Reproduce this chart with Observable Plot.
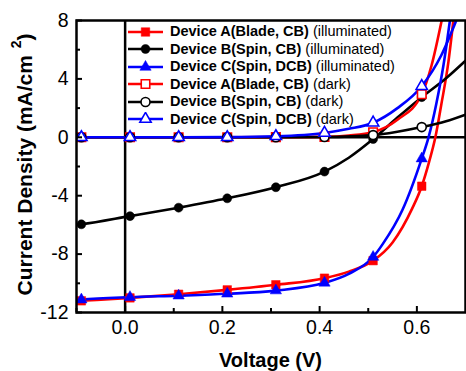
<!DOCTYPE html>
<html><head><meta charset="utf-8">
<script src="https://cdn.jsdelivr.net/npm/d3@7"></script>
<script src="https://cdn.jsdelivr.net/npm/@observablehq/plot@0.6"></script>
<style>
html,body{margin:0;padding:0;background:#fff;}
#wrap{position:relative;width:466px;height:371px;font-family:"Liberation Sans",Arial,sans-serif;}
#legend{position:absolute;left:128px;top:23px;}
.row{display:flex;align-items:center;height:17.5px;font-size:14.5px;color:#000;white-space:nowrap;line-height:17.5px;}
.row svg{margin-right:7px;flex:none;}
.row b{font-weight:bold;}
</style></head><body><div id="wrap"></div>
<script>
// ---- data ----
const markerVoltage = [-0.09, 0.01, 0.11, 0.21, 0.31, 0.41, 0.51, 0.61];
const markA_ill = [-11.2, -11.0, -10.75, -10.45, -10.1, -9.65, -8.45, -3.35];
const markB_ill = [-5.96, -5.4, -4.82, -4.18, -3.42, -2.35, -0.12, 2.75];
const markC_ill = [-11.12, -10.95, -10.85, -10.72, -10.5, -9.97, -8.2, -1.46];
const markA_dark = [0, 0, 0, 0, 0.01, 0.03, 0.35, 2.95];
const markB_dark = [0, 0, 0, 0, 0, 0.02, 0.15, 0.7];
const markC_dark = [0, 0, 0, 0, 0.07, 0.3, 1.0, 3.5];

const lineA_ill_V = [-0.1, -0.09, 0.01, 0.11, 0.21, 0.31, 0.41, 0.46, 0.51, 0.55, 0.59, 0.61, 0.625, 0.638, 0.65, 0.665, 0.675];
const lineA_ill_J = [-11.22, -11.2, -11.0, -10.75, -10.45, -10.1, -9.65, -9.2, -8.45, -7.2, -4.9, -3.35, -1.7, 0, 2.2, 5.2, 8];
const lineB_ill_V = [-0.1, -0.09, 0.01, 0.11, 0.21, 0.31, 0.41, 0.46, 0.51, 0.56, 0.61, 0.66, 0.7];
const lineB_ill_J = [-6.0, -5.96, -5.4, -4.82, -4.18, -3.42, -2.35, -1.4, -0.12, 1.35, 2.75, 4.05, 5.25];
const lineC_ill_V = [-0.1, -0.09, 0.01, 0.11, 0.21, 0.31, 0.41, 0.46, 0.51, 0.53, 0.57, 0.61, 0.624, 0.64, 0.655, 0.668];
const lineC_ill_J = [-11.15, -11.12, -10.95, -10.85, -10.72, -10.5, -9.97, -9.35, -8.2, -7.3, -5.0, -1.46, 0, 2.3, 5.0, 8];
const lineA_dark_V = [-0.1, -0.09, 0.01, 0.11, 0.21, 0.31, 0.41, 0.46, 0.51, 0.56, 0.61, 0.63, 0.651];
const lineA_dark_J = [0, 0, 0, 0, 0, 0.01, 0.03, 0.12, 0.35, 1.2, 2.95, 4.9, 8];
const lineB_dark_V = [-0.1, -0.09, 0.01, 0.11, 0.21, 0.31, 0.41, 0.51, 0.56, 0.61, 0.66, 0.7];
const lineB_dark_J = [0, 0, 0, 0, 0, 0, 0.02, 0.15, 0.38, 0.7, 1.1, 1.55];
const lineC_dark_V = [-0.1, -0.09, 0.01, 0.11, 0.21, 0.31, 0.41, 0.46, 0.51, 0.56, 0.61, 0.65, 0.681];
const lineC_dark_J = [0, 0, 0, 0, 0.01, 0.07, 0.3, 0.58, 1.0, 2.0, 3.5, 5.6, 8];

const xTicksMajor = [0, 0.2, 0.4, 0.6];
const xTicksMinor = [-0.1, 0.1, 0.3, 0.5];
const yTicksMajor = [-12, -8, -4, 0, 4, 8];
const yTicksMinor = [-10, -6, -2, 2, 6];

const seriesNames = ["Device A(Blade, CB)", "Device B(Spin, CB)", "Device C(Spin, DCB)", "Device A(Blade, CB)", "Device B(Spin, CB)", "Device C(Spin, DCB)"];
const seriesConds = ["(illuminated)", "(illuminated)", "(illuminated)", "(dark)", "(dark)", "(dark)"];
const seriesColors = ["#ff0000", "#000000", "#0000ff", "#ff0000", "#000000", "#0000ff"];
const seriesSymbols = ["square", "circle", "triangle", "square", "circle", "triangle"];
const seriesFilled = [true, true, true, false, false, false];

// ---- build tables ----
const lineSets = [
  [lineA_ill_V, lineA_ill_J], [lineB_ill_V, lineB_ill_J], [lineC_ill_V, lineC_ill_J],
  [lineA_dark_V, lineA_dark_J], [lineB_dark_V, lineB_dark_J], [lineC_dark_V, lineC_dark_J]
];
const markSets = [markA_ill, markB_ill, markC_ill, markA_dark, markB_dark, markC_dark];
const symR = {square: 4.8, circle: 4.5, triangle: 4.2};

const W = 466, H = 371, mL = 76, mR = 1, mT = 20, mB = 59;
const plotW = W - mL - mR, plotH = H - mT - mB;
const font = '"Liberation Sans", Arial, sans-serif';

const marks = [
  Plot.ruleX([0], {strokeWidth: 2.5, stroke: "#000"}),
  Plot.ruleY([0], {strokeWidth: 2.5, stroke: "#000"})
];
lineSets.forEach(([V, J], i) => {
  const rows = V.map((v, k) => ({v, j: J[k]}));
  marks.push(Plot.line(rows, {x: "v", y: "j", stroke: seriesColors[i], strokeWidth: 2.6, curve: "monotone-x", clip: true}));
});
markSets.forEach((J, i) => {
  const rows = markerVoltage.map((v, k) => ({v, j: J[k]}));
  const s = seriesSymbols[i];
  marks.push(Plot.dot(rows, {
    x: "v", y: "j", symbol: s, r: symR[s],
    fill: seriesFilled[i] ? seriesColors[i] : "#fff",
    stroke: seriesColors[i], strokeWidth: seriesFilled[i] ? 0.5 : 1.6, clip: true
  }));
});
marks.push(
  Plot.tickX(xTicksMajor, {x: d => d, insetTop: plotH - 6, strokeWidth: 2, stroke: "#000"}),
  Plot.tickX(xTicksMinor, {x: d => d, insetTop: plotH - 4, strokeWidth: 2, stroke: "#000"}),
  Plot.tickY(yTicksMajor, {y: d => d, insetRight: plotW - 6, strokeWidth: 2, stroke: "#000"}),
  Plot.tickY(yTicksMinor, {y: d => d, insetRight: plotW - 4, strokeWidth: 2, stroke: "#000"}),
  Plot.frame({strokeWidth: 2.5, stroke: "#000"}),
  Plot.axisX(xTicksMajor, {tickSize: 0, tickPadding: 8, tickFormat: d3.format(".1f"), fontSize: 19.5, label: null, fill: "#000"}),
  Plot.axisY(yTicksMajor, {tickSize: 0, tickPadding: 8, tickFormat: d => String(d), fontSize: 19.5, label: null, fill: "#000"})
);

const plot = Plot.plot({
  width: W, height: H,
  marginLeft: mL, marginRight: mR, marginTop: mT, marginBottom: mB,
  x: {domain: [-0.1, 0.7]},
  y: {domain: [-12, 8]},
  style: {fontFamily: font, background: "#fff", color: "#000"},
  marks
});

const svg = d3.select(plot);
// y-axis title with superscript
const yt = svg.append("text")
  .attr("transform", "translate(32,164.5) rotate(-90)")
  .attr("text-anchor", "middle")
  .attr("font-family", font).attr("font-size", 21).attr("font-weight", "bold").attr("fill", "#000");
yt.append("tspan").text("Current Density (mA/cm");
yt.append("tspan").attr("dy", -11).attr("font-size", 14).text("\u2009 2");
yt.append("tspan").attr("dy", 11).text(")");
// x-axis title
svg.append("text")
  .attr("x", mL + plotW / 2).attr("y", 366.5)
  .attr("text-anchor", "middle")
  .attr("font-family", font).attr("font-size", 20).attr("font-weight", "bold").attr("fill", "#000")
  .text("Voltage (V)");

const wrap = document.getElementById("wrap");
wrap.appendChild(plot);

// legend overlay
const legend = document.createElement("div");
legend.id = "legend";
seriesNames.forEach((name, i) => {
  const row = document.createElement("div");
  row.className = "row";
  const s = seriesSymbols[i];
  const r = symR[s];
  const path = d3.symbol(s === "square" ? d3.symbolSquare : s === "circle" ? d3.symbolCircle : d3.symbolTriangle, Math.PI * r * r)();
  const fill = seriesFilled[i] ? seriesColors[i] : "#fff";
  row.innerHTML =
    `<svg width="35" height="14" viewBox="0 0 35 14"><line x1="0" x2="35" y1="7" y2="7" stroke="${seriesColors[i]}" stroke-width="2.6"/>` +
    `<path transform="translate(17.5,7)" d="${path}" fill="${fill}" stroke="${seriesColors[i]}" stroke-width="${seriesFilled[i] ? 0.5 : 1.6}"/></svg>` +
    `<span><b>${name}</b> ${seriesConds[i]}</span>`;
  legend.appendChild(row);
});
wrap.appendChild(legend);
</script>
</body></html>
